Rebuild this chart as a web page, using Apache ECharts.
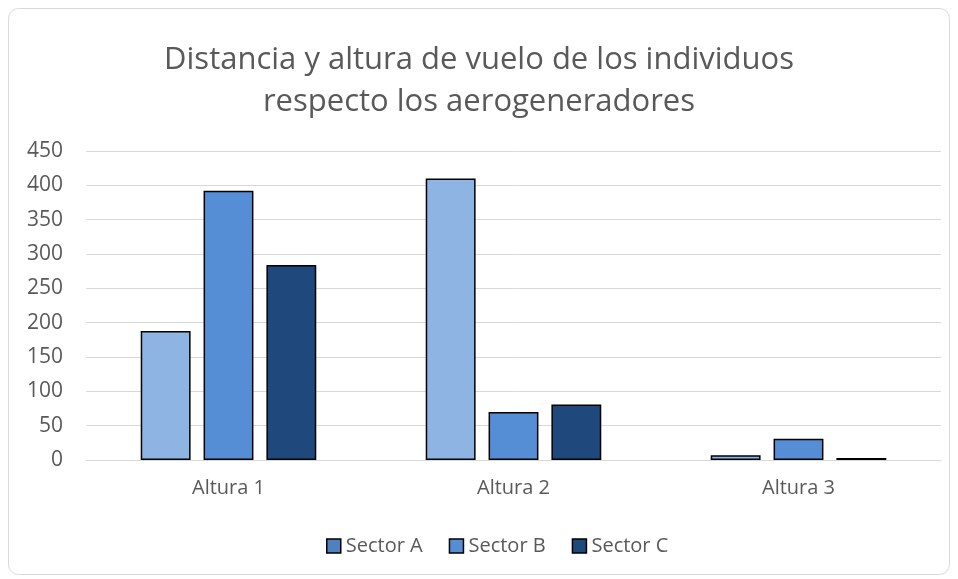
<!DOCTYPE html>
<html><head><meta charset="utf-8">
<script src="https://cdn.jsdelivr.net/npm/echarts@6/dist/echarts.min.js"></script>
<style>html,body{margin:0;padding:0;background:#fff}#c{width:958px;height:579px}</style>
</head><body><div id="c"></div>
<script>
const categories = ['Altura 1', 'Altura 2', 'Altura 3'];
const seriesNames = ['Sector A', 'Sector B', 'Sector C'];
const sectorA = [188, 410, 7];
const sectorB = [392, 70, 31];
const sectorC = [284, 81, 3];
const yTicks = [0, 50, 100, 150, 200, 250, 300, 350, 400, 450];

const barColors = ['#8EB4E3', '#558ED5', '#1F497D'];
const legendColors = ['#4F81BD', '#558ED5', '#1F497D'];
const font = 'Open Sans';
const chart = echarts.init(document.getElementById('c'), null, {renderer: 'canvas'});
const values = [sectorA, sectorB, sectorC];
chart.setOption({
  backgroundColor: '#fff',
  animation: false,
  graphic: [{type: 'rect', shape: {x: 8.5, y: 8.5, width: 941, height: 566, r: 10}, style: {fill: 'none', stroke: '#d9d9d9', lineWidth: 1}, z: -1}],
  title: {
    text: 'Distancia y altura de vuelo de los individuos\nrespecto los aerogeneradores',
    left: 'center', top: 34,
    textStyle: {fontFamily: font, fontWeight: 'normal', fontSize: 31, lineHeight: 42, color: '#595959'}
  },
  legend: {
    data: seriesNames.map((n, i) => ({name: n, itemStyle: {color: legendColors[i], borderColor: '#000', borderWidth: 1.5}})),
    top: 531, left: 321, itemWidth: 14, itemHeight: 14, itemGap: 26,
    icon: 'rect',
    textStyle: {fontFamily: font, fontSize: 20, color: '#595959', padding: [0,0,0,0]}
  },
  grid: {left: 86, right: 17, top: 151, bottom: 119, containLabel: false},
  xAxis: {
    type: 'category', data: categories,
    axisLine: {show: true, lineStyle: {color: '#d9d9d9', width: 1}},
    axisTick: {show: false},
    axisLabel: {fontFamily: font, fontSize: 20, color: '#595959', margin: 18}
  },
  yAxis: {
    type: 'value', min: 0, max: 450, interval: 50,
    axisLine: {show: false}, axisTick: {show: false},
    splitLine: {lineStyle: {color: '#d9d9d9', width: 1}},
    axisLabel: {fontFamily: font, fontSize: 21, color: '#595959', margin: 23,
      formatter: v => yTicks.includes(v) ? String(v) : ''}
  },
  series: seriesNames.map((n, i) => ({
    name: n, type: 'bar', data: values[i],
    barWidth: '17.5%', barGap: '26%', barCategoryGap: '38%',
    itemStyle: {color: barColors[i], borderColor: '#000', borderWidth: 1.5}
  }))
});
</script></body></html>
